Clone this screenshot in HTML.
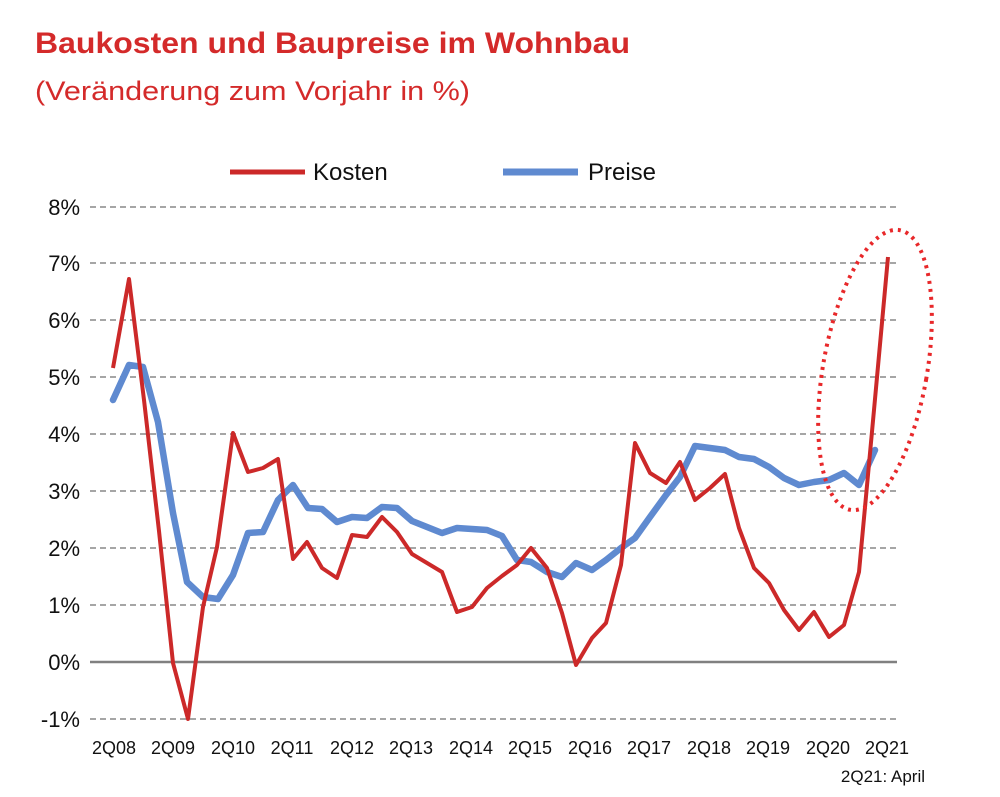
<!DOCTYPE html>
<html><head><meta charset="utf-8"><style>
body{margin:0;background:#fff;}
svg{display:block;font-family:"Liberation Sans",sans-serif;}
</style></head><body>
<svg width="1000" height="797" viewBox="0 0 1000 797">
<text x="35" y="53" font-size="30" font-weight="bold" fill="#d42a2a" textLength="595" lengthAdjust="spacingAndGlyphs">Baukosten und Baupreise im Wohnbau</text>
<text x="35" y="100" font-size="27" fill="#d42a2a" textLength="435" lengthAdjust="spacingAndGlyphs">(Veränderung zum Vorjahr in %)</text>
<line x1="230" y1="172" x2="305" y2="172" stroke="#cc2929" stroke-width="5"/>
<text x="313" y="180" font-size="24" fill="#111">Kosten</text>
<line x1="503" y1="172" x2="578" y2="172" stroke="#5f8ad0" stroke-width="7"/>
<text x="588" y="180" font-size="24" fill="#111">Preise</text>
<g stroke="#a6a6a6" stroke-width="2" stroke-dasharray="6,4">
<line x1="90" y1="207" x2="897" y2="207"/><line x1="90" y1="263" x2="897" y2="263"/>
<line x1="90" y1="320" x2="897" y2="320"/><line x1="90" y1="377" x2="897" y2="377"/>
<line x1="90" y1="434" x2="897" y2="434"/><line x1="90" y1="491" x2="897" y2="491"/>
<line x1="90" y1="548" x2="897" y2="548"/><line x1="90" y1="605" x2="897" y2="605"/>
<line x1="90" y1="719" x2="897" y2="719"/>
</g>
<line x1="90" y1="662" x2="897" y2="662" stroke="#808080" stroke-width="2.5"/>
<g font-size="22" fill="#111" text-anchor="end">
<text x="80" y="215">8%</text><text x="80" y="271">7%</text><text x="80" y="328">6%</text>
<text x="80" y="385">5%</text><text x="80" y="442">4%</text><text x="80" y="499">3%</text>
<text x="80" y="556">2%</text><text x="80" y="613">1%</text><text x="80" y="670">0%</text>
<text x="80" y="727">-1%</text>
</g>
<g font-size="18" fill="#111" text-anchor="middle">
<text x="114" y="754">2Q08</text><text x="173" y="754">2Q09</text><text x="233" y="754">2Q10</text>
<text x="292" y="754">2Q11</text><text x="352" y="754">2Q12</text><text x="411" y="754">2Q13</text>
<text x="471" y="754">2Q14</text><text x="530" y="754">2Q15</text><text x="590" y="754">2Q16</text>
<text x="649" y="754">2Q17</text><text x="709" y="754">2Q18</text><text x="768" y="754">2Q19</text>
<text x="828" y="754">2Q20</text><text x="887" y="754">2Q21</text>
</g>
<text x="925" y="782" font-size="17" fill="#111" text-anchor="end">2Q21: April</text>
<polyline fill="none" stroke="#5f8ad0" stroke-width="6.5" stroke-linejoin="round" stroke-linecap="round" points="113,400 129,365 143,367 158,422 173,513 187,582 203,597 218,599 233,575 248,533 263,532 278,500 293,485 308,508 322,509 337,522 352,517 367,518 382,507 397,508 412,521 427,527 442,533 457,528 472,529 487,530 502,536 517,560 531,562 547,572 562,577 576,563 592,570 606,560 621,548 635,538 650,517 666,495 680,477 695,446 710,448 725,450 739,457 754,459 769,467 784,478 799,485 814,482 829,480 844,473 859,485 875,450"/>
<polyline fill="none" stroke="#cc2929" stroke-width="4" stroke-linejoin="round" points="113,368 129,279 144,400 159,531 173,663 188,719 203,607 217,547 233,433 248,472 263,468 278,459 293,559 307,542 322,568 337,578 352,535 367,537 382,517 397,532 412,554 427,563 442,572 457,612 472,607 487,588 502,576 517,565 531,548 547,568 562,613 576,665 592,638 606,623 621,565 635,443 650,473 666,483 680,462 695,500 710,488 725,474 739,528 754,568 769,583 784,610 799,630 814,612 829,637 844,625 859,572 874,410 888,257"/>
<ellipse cx="875" cy="370" rx="52" ry="142" transform="rotate(10 875 370)" fill="none" stroke="#e8282a" stroke-width="4" stroke-dasharray="3,5"/>
</svg>
</body></html>
